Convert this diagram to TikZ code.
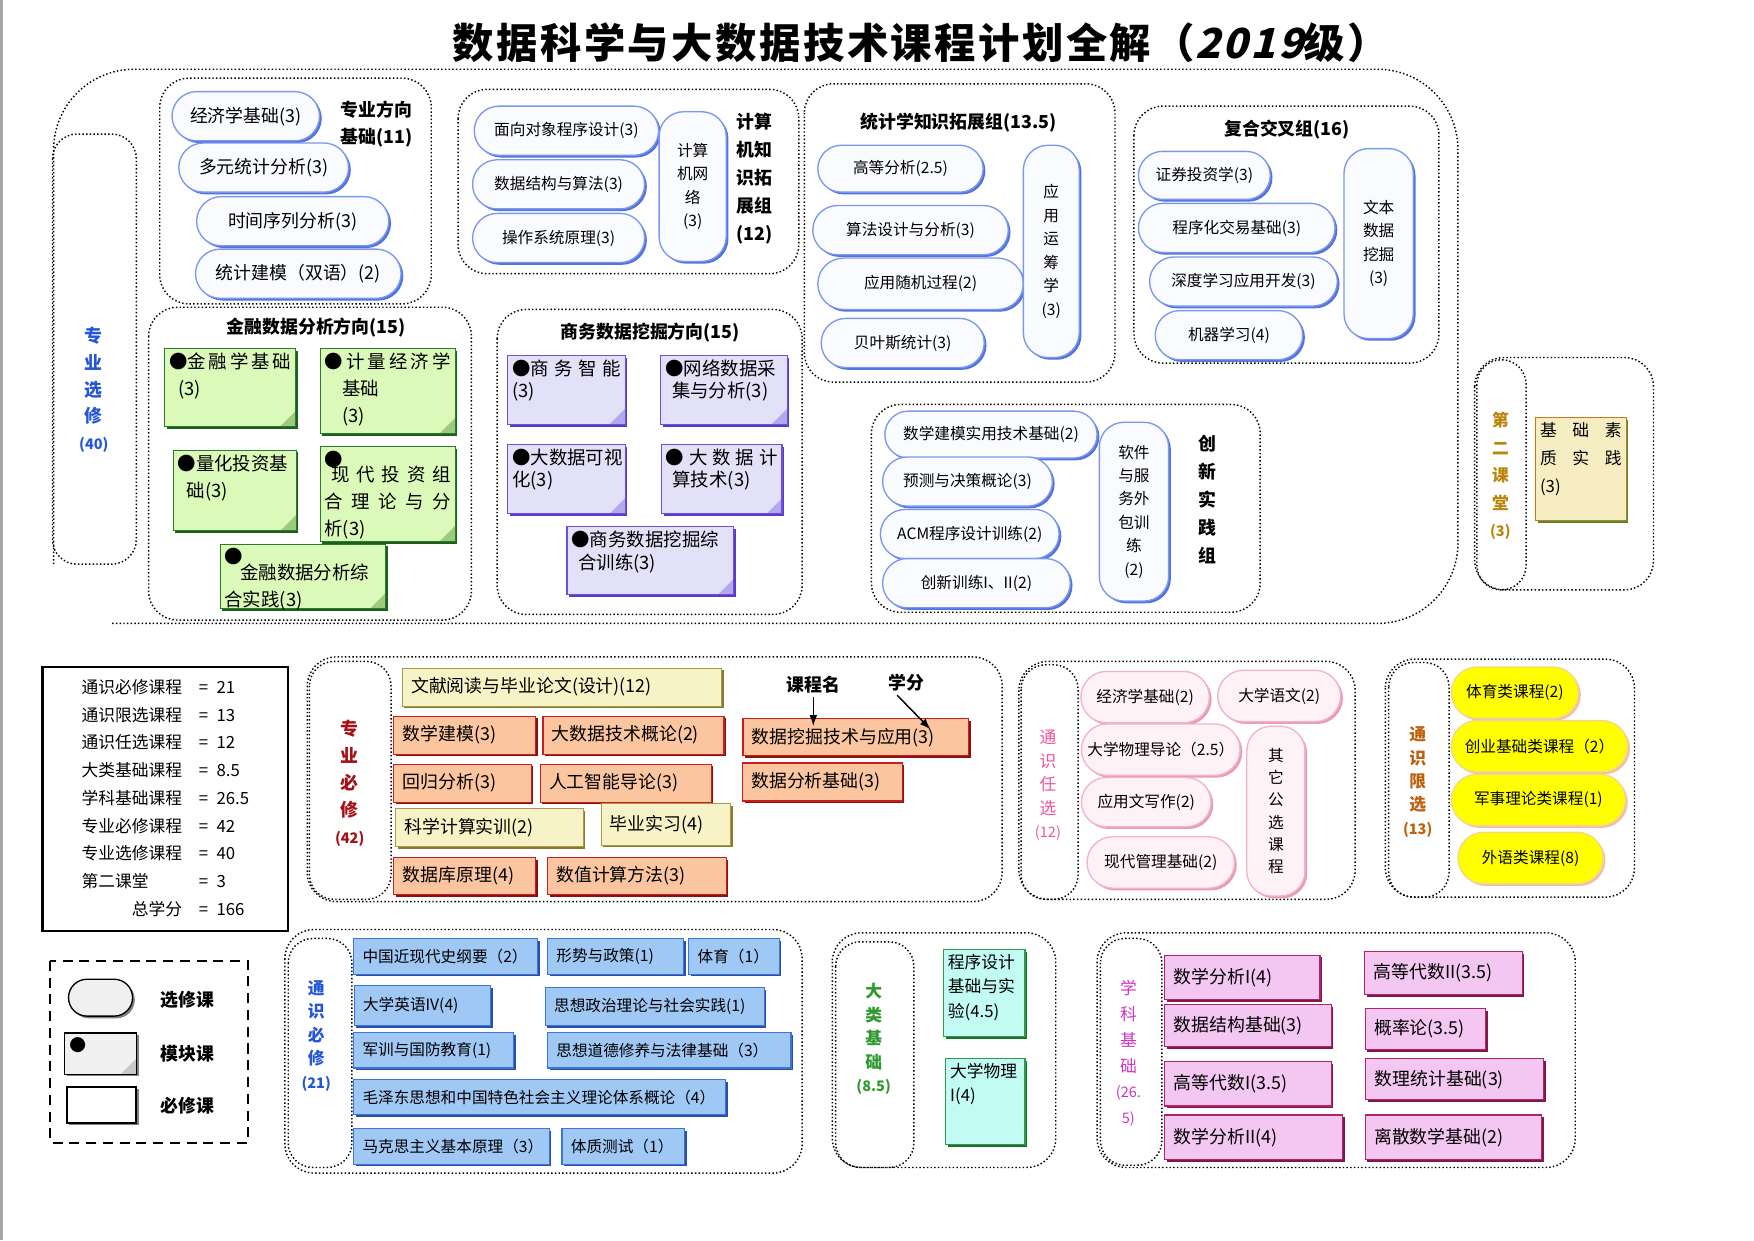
\documentclass[tikz,border=0pt]{standalone}
\usepackage{fontspec}
\setmainfont{Noto Sans CJK SC}
\usetikzlibrary{shapes.misc,shadows,arrows.meta}

\definecolor{pillline}{HTML}{7C98EE}
\definecolor{pillfill}{HTML}{F9FBFF}
\definecolor{pillshade}{HTML}{5272DD}
\definecolor{qpline}{HTML}{F2B3CA}
\definecolor{qpfill}{HTML}{FFF2F7}
\definecolor{qpshade}{HTML}{E99AB8}
\definecolor{yeline}{HTML}{F6D58E}
\definecolor{yefill}{HTML}{FFFF00}
\definecolor{yeshade}{HTML}{EFC0A8}
\definecolor{grfill}{HTML}{DBF9B8}
\definecolor{grline}{HTML}{2A7A2A}
\definecolor{grshade}{HTML}{1E5E1E}
\definecolor{grfold}{HTML}{9CCB7C}
\definecolor{pufill}{HTML}{E3E1F8}
\definecolor{puline}{HTML}{7050D8}
\definecolor{pushade}{HTML}{5A3CC8}
\definecolor{pufold}{HTML}{B4A8EC}
\definecolor{orfill}{HTML}{FBC59F}
\definecolor{orline}{HTML}{C81E1E}
\definecolor{orshade}{HTML}{8C1010}
\definecolor{befill}{HTML}{F7F3C6}
\definecolor{beline}{HTML}{A89A48}
\definecolor{beshade}{HTML}{8A7A30}
\definecolor{blfill}{HTML}{A0C8F5}
\definecolor{blline}{HTML}{3C74D8}
\definecolor{blshade}{HTML}{2850A8}
\definecolor{pkfill}{HTML}{F3C7F1}
\definecolor{pkline}{HTML}{B0246C}
\definecolor{pkshade}{HTML}{801848}
\definecolor{cyfill}{HTML}{C2FBF3}
\definecolor{cyline}{HTML}{2F9B48}
\definecolor{cyshade}{HTML}{1F7030}
\definecolor{sqfill}{HTML}{F6EEC2}
\definecolor{sqline}{HTML}{C8781E}
\definecolor{sqshade}{HTML}{4E8A2E}
\definecolor{lgfill}{HTML}{F0F0F0}
\definecolor{lgshade}{HTML}{808080}
\definecolor{lgfold}{HTML}{C8C8C8}
\definecolor{lbblue}{HTML}{2457D8}
\definecolor{lbred}{HTML}{A50F15}
\definecolor{lbpink}{HTML}{F2559C}
\definecolor{lbbrown}{HTML}{C0600C}
\definecolor{lbgold}{HTML}{B8860B}
\definecolor{lbgreen}{HTML}{2E9A2E}
\definecolor{lbmag}{HTML}{D135C6}

\newcommand{\fsz}[2]{\fontsize{#1}{#2}\selectfont}
\newcommand{\tbox}[3]{\parbox[c][#2pt][t]{#1pt}{#3}}
\newcommand{\sprd}[1]{\makebox[\linewidth][s]{#1}}

\tikzset{
  grp/.style={draw=black, dotted, line width=1.3pt, rounded corners=#1},
  grp/.default=26pt,
  sz/.style 2 args={minimum width=#1pt, minimum height=#2pt},
  shd/.style={drop shadow={fill=#1, opacity=1, shadow xshift=2pt, shadow yshift=-2pt}},
  pillbase/.style={rounded rectangle, line width=1.2pt, inner sep=0pt, font=\fsz{14}{16}},
  pill/.style={pillbase, draw=pillline, fill=pillfill, shd=pillshade},
  vpill/.style={pill, rectangle, rounded corners=22pt, align=center, font=\fsz{14}{21}},
  pinkpill/.style={pillbase, draw=qpline, fill=qpfill, shd=qpshade},
  yelpill/.style={pillbase, draw=yeline, fill=yefill, shd=yeshade},
  bx/.style 2 args={rectangle, minimum width=#1pt, minimum height=#2pt, text width=#1pt-16pt,
    inner xsep=8pt, inner ysep=0pt, align=left, line width=1pt, font=\fsz{16}{18}},
  orng/.style={fill=orfill, draw=orline, shd=orshade},
  beig/.style={fill=befill, draw=beline, shd=beshade},
  blu/.style={fill=blfill, draw=blline, shd=blshade, font=\fsz{14}{16}},
  pnk/.style={fill=pkfill, draw=pkline, shd=pkshade},
  fold/.style={path picture={\fill[#1] ([xshift=-14pt]path picture bounding box.south east)
    -- ([yshift=14pt]path picture bounding box.south east) -- (path picture bounding box.south east) -- cycle;}},
  modbase/.style={rectangle, inner sep=4pt, line width=1pt},
  modg/.style={modbase, fill=grfill, draw=grline, shd=grshade, fold=grfold, font=\fsz{16.5}{24}},
  modp/.style={modbase, fill=pufill, draw=puline, shd=pushade, fold=pufold, font=\fsz{16.5}{20}},
  cyan/.style={modbase, fill=cyfill, draw=cyline, shd=cyshade, font=\fsz{15}{22}},
  vlab/.style={align=center, font=\fsz{16}{24}\bfseries},
  hd/.style={font=\fsz{16}{24}\bfseries, align=center},
  ptr/.style={-{Latex[length=10pt, width=7pt]}, line width=1.3pt},
}

\begin{document}
\begin{tikzpicture}[x=1pt, y=-1pt]
  \useasboundingbox (0,0) rectangle (1570,1110);
  \fill[white] (0,0) rectangle (1570,1110);
  \draw[gray!70, line width=3pt] (1.5,0) -- (1.5,1110);

  \node[font=\fsz{37}{40}\bfseries\addfontfeatures{LetterSpace=6}] (title) at (824,38)
    {数据科学与大数据技术课程计划全解（{\addfontfeatures{FakeSlant=0.25}2019}级）};

  % frames
  \draw[grp=72pt] (48,505) -- (48,62) -- (1305,62) -- (1305,558) -- (100,558);
  \foreach \xa/\ya/\xb/\yb in {143/70/386/272, 410/80/715/245, 720/75/998/342, 1015/95/1288/325,
      133/275/422/555, 445/277/718/550, 780/362/1128/548, 1320/320/1480/528,
      275/588/897/807, 912/592/1213/805, 1240/590/1463/803, 255/832/718/1050,
      745/835/945/1045, 982/835/1410/1045}
    \draw[grp] (\xa,\ya) rectangle (\xb,\yb);
  \foreach \xa/\ya/\xb/\yb in {47/120/122/505, 1322/322/1366/528, 277/592/350/805, 914/595/965/805,
      1243/593/1297/803, 258/840/315/1045, 748/843/818/1045, 985/840/1040/1043}
    \draw[grp=22pt] (\xa,\ya) rectangle (\xb,\yb);

  \node[vlab, text=lbblue] (zxlab) at (84,349) {专\\业\\选\\修\\{\fsz{13}{14}(40)}};

  \node[pill, sz={132}{44}, font=\fsz{16}{18}] (jjxjc) at (220,104) {经济学基础(3)};
  \node[pill, sz={152}{44}, font=\fsz{16}{18}] (dytj) at (236,150) {多元统计分析(3)};
  \node[pill, sz={172}{44}, font=\fsz{16}{18}] (sjxl) at (262,198) {时间序列分析(3)};
  \node[pill, sz={184}{44}, font=\fsz{16}{18}] (tjjm) at (267,245) {统计建模（双语）(2)};
  \node[hd, align=left] (fxjc) at (337,111) {专业方向\\基础(11)};

  \node[pill, sz={165}{44}] (mxdx) at (507,117) {面向对象程序设计(3)};
  \node[pill, sz={154}{44}] (sjjg) at (500,165) {数据结构与算法(3)};
  \node[pill, sz={154}{44}] (czxt) at (500,213) {操作系统原理(3)};
  \node[vpill, sz={60}{134}] (jsjwl) at (620,167) {计算\\机网\\络\\(3)};
  \node[vlab, font=\fsz{16}{25}\bfseries] (jsjlab) at (675,160) {计算\\机知\\识拓\\展组\\(12)};

  \node[hd] (tjlab) at (858,110) {统计学知识拓展组(13.5)};
  \node[pill, sz={148}{42}] (gdfx) at (806,151) {高等分析(2.5)};
  \node[pill, sz={175}{44}] (sfsj) at (815,206) {算法设计与分析(3)};
  \node[pill, sz={184}{46}] (sjgc) at (824,254) {应用随机过程(2)};
  \node[pill, sz={146}{44}] (byst) at (808,307) {贝叶斯统计(3)};
  \node[vpill, sz={50}{190}] (yyyc) at (941,225) {应\\用\\运\\筹\\学\\(3)};

  \node[hd] (fhlab) at (1152,116) {复合交叉组(16)};
  \node[pill, sz={118}{43}] (zqtz) at (1078,157) {证券投资学(3)};
  \node[pill, sz={176}{44}] (cxjy) at (1107,204) {程序化交易基础(3)};
  \node[pill, sz={168}{44}] (sdxx) at (1113,252) {深度学习应用开发(3)};
  \node[pill, sz={132}{44}] (jqxx) at (1100,300) {机器学习(4)};
  \node[vpill, sz={62}{170}] (wbwj) at (1234,218) {文本\\数据\\挖掘\\(3)};

  \node[hd] (jrlab) at (283,293) {金融数据分析方向(15)};
  \node[modg] (jrxjc) at (206,347) {\tbox{109}{62}{\sprd{●金 融 学 基 础}\\\hspace*{8pt}(3)}};
  \node[modg] (jljj) at (347,350) {\tbox{113}{68}{\sprd{● 计 量 经 济 学}\\\hspace*{16pt}基础\\\hspace*{16pt}(3)}};
  \node[modg] (lhtz) at (210,439) {\tbox{102}{64}{\sprd{●量化投资基}\\\hspace*{8pt}础(3)}};
  \node[modg] (xdtz) at (347,442) {\tbox{113}{77}{●\\[-10pt]\sprd{\hspace*{6pt}现 代 投 资 组}\\\sprd{合 理 论 与 分}\\析(3)}};
  \node[modg] (jrzh) at (271,516) {\tbox{140}{50}{●\\[-10pt]\hspace*{14pt}金融数据分析综\\合实践(3)}};

  \node[hd] (swlab) at (582,298) {商务数据挖掘方向(15)};
  \node[modp] (swzn) at (507,349) {\tbox{97}{54}{\sprd{●商 务 智 能}\\(3)}};
  \node[modp] (wlsj) at (648,349) {\tbox{105}{54}{●网络数据采\\\hspace*{6pt}集与分析(3)}};
  \node[modp] (dsjks) at (507,429) {\tbox{97}{54}{●大数据可视\\化(3)}};
  \node[modp] (dsjjs) at (646,429) {\tbox{100}{54}{\sprd{● 大 数 据 计}\\\hspace*{6pt}算技术(3)}};
  \node[modp] (swzh) at (582,502) {\tbox{141}{53}{●商务数据挖掘综\\\hspace*{6pt}合训练(3)}};

  \node[pill, sz={190}{42}] (sxjm) at (887,389) {数学建模实用技术基础(2)};
  \node[pill, sz={152}{44}] (ycjc) at (866,431) {预测与决策概论(3)};
  \node[pill, sz={160}{44}] (acm) at (868,478) {ACM程序设计训练(2)};
  \node[pill, sz={168}{44}] (cxxl) at (874,522) {创新训练I、II(2)};
  \node[vpill, sz={62}{160}] (rjwb) at (1015,458) {软件\\与服\\务外\\包训\\练\\(2)};
  \node[vlab, font=\fsz{16}{25}\bfseries] (cxlab) at (1081,447) {创\\新\\实\\践\\组};

  \node[vlab, text=lbgold, font=\fsz{15}{24.5}\bfseries] (dektlab) at (1343,426) {第\\二\\课\\堂\\{\fsz{13}{14}(3)}};
  \node[modbase, fill=sqfill, draw=sqline, shd=sqshade, font=\fsz{15}{25}] (jcsz) at (1415,420)
    {\tbox{73}{84}{\sprd{基 础 素}\\\sprd{质 实 践}\\(3)}};

  % summary
  \node[draw, line width=2pt, sz={220}{236}, font=\fsz{15}{24.8}] (sum) at (148,715) {%
    \begin{tabular}{@{}l@{\quad=\enspace}l@{}}
      通识必修课程 & 21\\ 通识限选课程 & 13\\ 通识任选课程 & 12\\
      大类基础课程 & 8.5\\ 学科基础课程 & 26.5\\ 专业必修课程 & 42\\
      专业选修课程 & 40\\ 第二课堂 & 3\\ \hfill 总学分 & 166
    \end{tabular}};

  \node[vlab, text=lbred] (zbxlab) at (313,701) {专\\业\\必\\修\\{\fsz{13}{14}(42)}};
  \node[bx={286}{34}, beig] (wxyd) at (503,615) {文献阅读与毕业论文(设计)(12)};
  \node[bx={127}{34}, orng] (sxjmb) at (416,658) {数学建模(3)};
  \node[bx={162}{34}, orng] (dsjgl) at (567,658) {大数据技术概论(2)};
  \node[bx={202}{33}, orng] (sjwj) at (766,660) {数据挖掘技术与应用(3)};
  \node[bx={123}{34}, orng] (hgfx) at (414,701) {回归分析(3)};
  \node[bx={153}{34}, orng] (rgzn) at (560,701) {人工智能导论(3)};
  \node[bx={143}{34}, orng] (sjfx) at (736,700) {数据分析基础(3)};
  \node[bx={168}{34}, beig] (kxjs) at (438,741) {科学计算实训(2)};
  \node[bx={116}{37}, beig] (bysx) at (596,738) {毕业实习(4)};
  \node[bx={127}{33}, orng] (sjkyl) at (416,784) {数据库原理(4)};
  \node[bx={160}{33}, orng] (szjs) at (570,784) {数值计算方法(3)};
  \node[hd] (kcm) at (728,613) {课程名};
  \node[hd] (xf) at (811,611) {学分};
  \coordinate (xfend) at (833,653);
  \draw[ptr, shorten >=-7pt] (kcm.south) -- (kcm.south |- sjwj.north);
  \draw[ptr] ([xshift=-8pt]xf.south) -- (xfend);

  \node[vlab, text=lbpink, font=\fsz{15}{21}] (rxlab) at (938,703) {通\\识\\任\\选\\{\fsz{13}{14}(12)}};
  \node[pinkpill, sz={115}{46}] (jjx2) at (1025,624) {经济学基础(2)};
  \node[pinkpill, sz={110}{46}] (dxyw) at (1145,623) {大学语文(2)};
  \node[pinkpill, sz={142}{46}] (dxwl) at (1039,671) {大学物理导论（2.5）};
  \node[pinkpill, sz={116}{44}] (yywx) at (1026,718) {应用文写作(2)};
  \node[pinkpill, sz={132}{46}] (xdgl) at (1039,772) {现代管理基础(2)};
  \node[pinkpill, rectangle, rounded corners=22pt, sz={52}{152}, align=center, font=\fsz{14}{20}] (qtgx) at (1142,726) {其\\它\\公\\选\\课\\程};

  \node[vlab, text=lbbrown, font=\fsz{15}{21}\bfseries] (xxlab) at (1269,700) {通\\识\\限\\选\\{\fsz{13}{14}(13)}};
  \node[yelpill, sz={114}{46}] (tylkc) at (1356,620) {体育类课程(2)};
  \node[yelpill, sz={158}{46}] (cyjc) at (1378,668) {创业基础类课程（2）};
  \node[yelpill, sz={156}{46}] (jsll) at (1377,716) {军事理论类课程(1)};
  \node[yelpill, sz={130}{46}] (wylkc) at (1370,768) {外语类课程(8)};

  % legend
  \draw[dash pattern=on 9pt off 6pt, line width=2pt] (45,860) rectangle (222,1023);
  \node[rounded rectangle, sz={64}{33}, draw, line width=1.2pt, fill=lgfill, shd=lgshade] (lgxx) at (90,893) {};
  \node[modbase, draw, line width=1.2pt, fill=lgfill, shd=lgshade, fold=lgfold, font=\fsz{15}{16}] (lgmk) at (90,943) {\tbox{56}{29}{●}};
  \node[rectangle, sz={62}{32}, draw, line width=1.5pt, fill=white, shd=lgshade] (lgbx) at (91,989) {};
  \node[hd] (lgxxt) at (168,895) {选修课};
  \node[hd] (lgmkt) at (168,943) {模块课};
  \node[hd] (lgbxt) at (168,990) {必修课};

  \node[vlab, text=lbblue, font=\fsz{15}{21}\bfseries] (bxlab) at (283,927) {通\\识\\必\\修\\{\fsz{13}{14}(21)}};
  \node[bx={165}{32}, blu] (zgjxd) at (399,856) {中国近现代史纲要（2）};
  \node[bx={122}{32}, blu] (xszc) at (551,856) {形势与政策(1)};
  \node[bx={81}{32}, blu] (ty) at (657,856) {体育（1）};
  \node[bx={122}{36}, blu] (dxyy) at (378,900) {大学英语IV(4)};
  \node[bx={196}{34}, blu] (sxzz) at (586,901) {思想政治理论与社会实践(1)};
  \node[bx={143}{32}, blu] (jxgf) at (388,940) {军训与国防教育(1)};
  \node[bx={218}{32}, blu] (sxdd) at (599,940) {思想道德修养与法律基础（3）};
  \node[bx={333}{31}, blu] (mzd) at (483,982) {毛泽东思想和中国特色社会主义理论体系概论（4）};
  \node[bx={175}{32}, blu] (mks) at (404,1026) {马克思主义基本原理（3）};
  \node[bx={110}{32}, blu] (tzcs) at (558,1026) {体质测试（1）};

  \node[vlab, text=lbgreen, font=\fsz{15}{21}\bfseries] (dllab) at (782,930) {大\\类\\基\\础\\{\fsz{13}{14}(8.5)}};
  \node[cyan] (cxsj) at (881,889) {\tbox{65}{70}{程序设计\\基础与实\\验(4.5)}};
  \node[cyan] (dxwl1) at (882,986) {\tbox{63}{69}{大学物理\\I(4)}};

  \node[vlab, text=lbmag, font=\fsz{15}{23}] (xklab) at (1010,943) {学\\科\\基\\础\\{\fsz{13}{17}(26.}\\{\fsz{13}{17}5)}};
  \node[bx={139}{40}, pnk] (sxfx1) at (1112,875) {数学分析I(4)};
  \node[bx={149}{37}, pnk] (sjjgjc) at (1117,918) {数据结构基础(3)};
  \node[bx={149}{40}, pnk] (gdds1) at (1117,970) {高等代数I(3.5)};
  \node[bx={159}{40}, pnk] (sxfx2) at (1122,1018) {数学分析II(4)};
  \node[bx={141}{38}, pnk] (gdds2) at (1292,871) {高等代数II(3.5)};
  \node[bx={108}{37}, pnk] (gll) at (1276,921) {概率论(3.5)};
  \node[bx={159}{37}, pnk] (sltj) at (1302,966) {数理统计基础(3)};
  \node[bx={158}{40}, pnk] (lssx) at (1301,1018) {离散数学基础(2)};
\end{tikzpicture}
\end{document}
